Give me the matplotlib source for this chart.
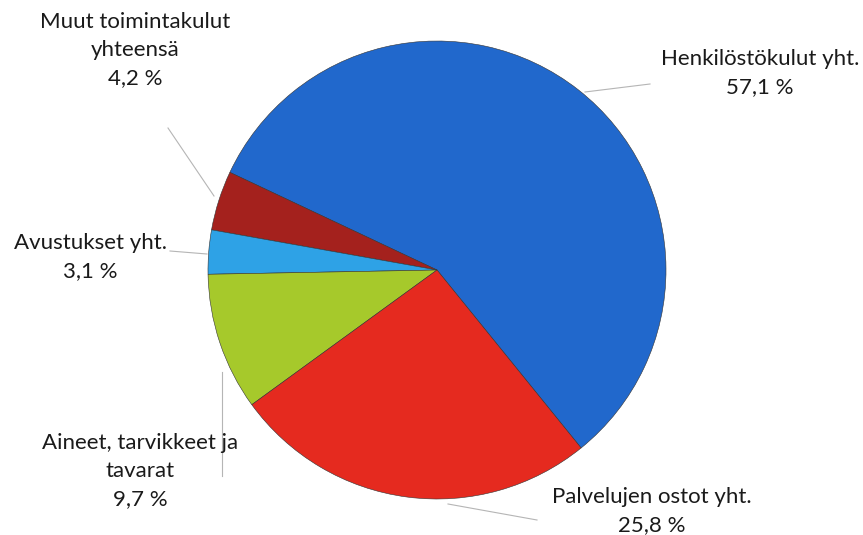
import matplotlib
matplotlib.use('Agg')
import matplotlib.pyplot as plt

# cost shares (%)
labels = ['Henkilöstökulut yht.', 'Muut toimintakulut\nyhteensä', 'Avustukset yht.',
          'Aineet, tarvikkeet ja\ntavarat', 'Palvelujen ostot yht.']
shares = [57.1, 4.2, 3.1, 9.7, 25.8]
colors = ['#2168CC', '#A4211D', '#2EA2E6', '#A6C92B', '#E52A1F']

W, H = 863, 535
fig = plt.figure(figsize=(W / 100, H / 100), dpi=100)
ax = fig.add_axes([0, 0, 1, 1])

cx, cy, r = 437, H - 270, 229
wedges, _ = ax.pie(shares, colors=colors, startangle=-51, counterclock=True,
                   center=(cx, cy), radius=r, frame=True,
                   wedgeprops=dict(edgecolor='#333333', linewidth=0.4))
ax.set_xlim(0, W)
ax.set_ylim(0, H)
ax.set_aspect('equal')
ax.axis('off')

# label positions (pixel coords from top) and leader lines
label_pos = [(760, 73), (135, 50), (90, 257), (140, 471), (652, 511)]
leaders = [
    [(585, 92), (650, 84)],
    [(168, 128), (214, 196)],
    [(170, 251), (207, 254)],
    [(222, 372), (222, 476)],
    [(448, 504), (537, 520)],
]

fmt = lambda v: f'{v:.1f}'.replace('.', ',') + ' %'
for lab, v, (x, y) in zip(labels, shares, label_pos):
    ax.text(x, H - y, lab + '\n' + fmt(v), ha='center', va='center',
            fontsize=16, family='Lato', color='#1a1a1a', linespacing=1.5)

for seg in leaders:
    xs = [p[0] for p in seg]
    ys = [H - p[1] for p in seg]
    ax.plot(xs, ys, color='#b5b5b5', lw=0.8)

fig.savefig('out.png', dpi=100, facecolor='white')
